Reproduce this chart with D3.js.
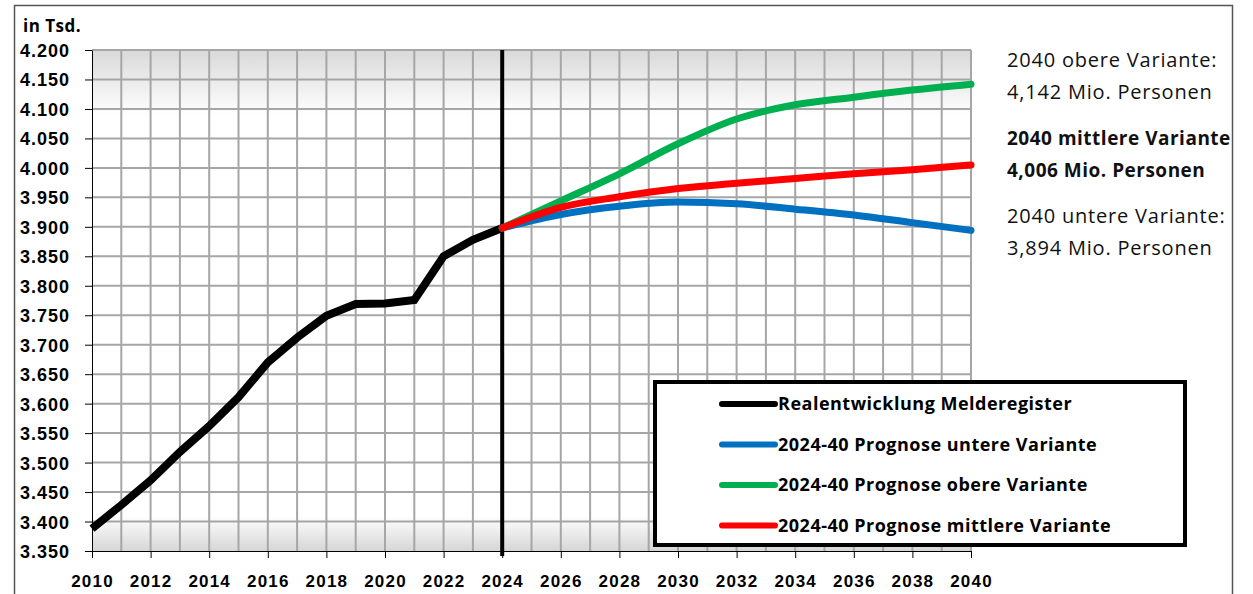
<!DOCTYPE html>
<html>
<head>
<meta charset="utf-8">
<script src="https://cdn.jsdelivr.net/npm/d3@7"></script>
<style>
  body { margin: 0; background: #fff; }
  svg { display: block; font-family: "Open Sans", sans-serif; }
  .axis path, .axis line { stroke: #000; }
  .axis text { font-weight: bold; fill: #000; }
</style>
</head>
<body>
<div id="chart"></div>
<script>
// values in thousands
var realYears = [2010, 2011, 2012, 2013, 2014, 2015, 2016, 2017, 2018, 2019, 2020, 2021, 2022, 2023, 2024];
var realValues = [3388, 3428, 3470, 3518, 3562, 3611, 3670, 3712, 3749, 3769, 3770, 3776, 3850, 3878, 3898];

var progYears = [2024, 2026, 2028, 2030, 2032, 2034, 2036, 2038, 2040];
var untereValues = [3898, 3921, 3935, 3942, 3939, 3930, 3920, 3907, 3894];
var obereValues = [3898, 3944, 3990, 4041, 4083, 4107, 4120, 4132, 4142];
var mittlereValues = [3898, 3933, 3951, 3965, 3974, 3982, 3990, 3997, 4005];

var yTicks = [3350, 3400, 3450, 3500, 3550, 3600, 3650, 3700, 3750, 3800, 3850, 3900, 3950, 4000, 4050, 4100, 4150, 4200];
var xTickYears = [2010, 2012, 2014, 2016, 2018, 2020, 2022, 2024, 2026, 2028, 2030, 2032, 2034, 2036, 2038, 2040];

var legendItems = [
  {label: "Realentwicklung Melderegister", color: "#000000"},
  {label: "2024-40 Prognose untere Variante", color: "#0070c0"},
  {label: "2024-40 Prognose obere Variante", color: "#00b050"},
  {label: "2024-40 Prognose mittlere Variante", color: "#ff0000"}
];

var notes = [
  {lines: ["2040 obere Variante:", "4,142 Mio. Personen"], bold: false},
  {lines: ["2040 mittlere Variante", "4,006 Mio. Personen"], bold: true},
  {lines: ["2040 untere Variante:", "3,894 Mio. Personen"], bold: false}
];

var W = 1253, H = 594;
var margin = {top: 50, right: 282, bottom: 43, left: 92},
    width = W - margin.left - margin.right,
    height = H - margin.top - margin.bottom;

var svg = d3.select("#chart").append("svg")
    .attr("width", W)
    .attr("height", H);

// outer frame
svg.append("rect")
   .attr("x", 14.5).attr("y", 5.5)
   .attr("width", 1218).attr("height", 600)
   .attr("fill", "none")
   .attr("stroke", "#555")
   .attr("stroke-width", 1.5);

var defs = svg.append("defs");
var grad = defs.append("linearGradient")
    .attr("id", "bg").attr("x1", 0).attr("y1", 0).attr("x2", 0).attr("y2", 1);
grad.append("stop").attr("offset", "0%").attr("stop-color", "#d9d9d9");
grad.append("stop").attr("offset", "13%").attr("stop-color", "#ffffff");
grad.append("stop").attr("offset", "93%").attr("stop-color", "#ffffff");
grad.append("stop").attr("offset", "100%").attr("stop-color", "#d6d6d6");

var g = svg.append("g")
    .attr("transform", "translate(" + margin.left + "," + margin.top + ")");

var x = d3.scaleLinear().domain([2010, 2040]).range([0, width]);
var y = d3.scaleLinear().domain([3350, 4200]).range([height, 0]);

g.append("rect")
 .attr("width", width).attr("height", height)
 .attr("fill", "url(#bg)");

// grid
g.append("g")
 .selectAll("line")
 .data(d3.range(2011, 2041))
 .enter().append("line")
   .attr("x1", function(d) { return x(d); })
   .attr("x2", function(d) { return x(d); })
   .attr("y1", 0).attr("y2", height)
   .attr("stroke", "#a6a6a6").attr("stroke-width", 2);

g.append("g")
 .selectAll("line")
 .data(yTicks.slice(1))
 .enter().append("line")
   .attr("x1", 0).attr("x2", width)
   .attr("y1", function(d) { return y(d); })
   .attr("y2", function(d) { return y(d); })
   .attr("stroke", "#a6a6a6").attr("stroke-width", 2);

// axes
var yAxis = g.append("g")
   .attr("class", "axis")
   .call(d3.axisLeft(y).tickValues(yTicks).tickSize(7).tickSizeOuter(0).tickPadding(15)
     .tickFormat(function(d) { return d3.format(".3f")(d / 1000); }));
yAxis.selectAll("text")
     .style("font-size", "18px").style("letter-spacing", "1px")
     .attr("dy", "0.36em");

var xAxis = g.append("g")
   .attr("class", "axis")
   .attr("transform", "translate(0," + height + ")")
   .call(d3.axisBottom(x).tickValues(xTickYears).tickSize(7).tickSizeOuter(0).tickPadding(17)
     .tickFormat(d3.format("d")));
xAxis.selectAll("text")
     .style("font-size", "17px").style("letter-spacing", "1.2px");

svg.append("text")
   .attr("x", 23).attr("y", 32)
   .style("font-size", "17px").style("font-weight", "bold")
   .style("letter-spacing", "0.5px")
   .text("in Tsd.");

// 2024 divider
g.append("line")
 .attr("x1", x(2024)).attr("x2", x(2024))
 .attr("y1", 0).attr("y2", height + 5)
 .attr("stroke", "#000").attr("stroke-width", 4);

// lines
var realLine = d3.line()
    .x(function(d, i) { return x(realYears[i]); })
    .y(function(d) { return y(d); });

var progLine = d3.line()
    .curve(d3.curveMonotoneX)
    .x(function(d, i) { return x(progYears[i]); })
    .y(function(d) { return y(d); });

g.append("path")
 .attr("d", realLine(realValues))
 .attr("fill", "none").attr("stroke", "#000").attr("stroke-width", 8);

[[untereValues, "#0070c0"], [obereValues, "#00b050"], [mittlereValues, "#ff0000"]].forEach(function(s) {
  g.append("path")
   .attr("d", progLine(s[0]))
   .attr("fill", "none").attr("stroke", s[1]).attr("stroke-width", 7)
   .attr("stroke-linecap", "round");
});

// right-hand notes
var noteY = [67, 145, 223];
notes.forEach(function(n, i) {
  n.lines.forEach(function(t, j) {
    svg.append("text")
       .attr("x", 1007).attr("y", noteY[i] + j * 32)
       .style("font-size", n.bold ? "19px" : "20px")
       .style("letter-spacing", n.bold ? "0.5px" : "0.8px")
       .style("font-weight", n.bold ? "bold" : "normal")
       .style("fill", "#111")
       .text(t);
  });
});

// legend
var legend = svg.append("g").attr("transform", "translate(655,382)");
legend.append("rect")
      .attr("width", 530).attr("height", 163)
      .attr("fill", "#fff").attr("stroke", "#000").attr("stroke-width", 4);

legendItems.forEach(function(d, i) {
  var ly = 22 + i * 40.5;
  legend.append("line")
        .attr("x1", 67).attr("x2", 120)
        .attr("y1", ly).attr("y2", ly)
        .attr("stroke", d.color).attr("stroke-width", 6)
        .attr("stroke-linecap", "round");
  legend.append("text")
        .attr("x", 123).attr("y", ly + 6)
        .style("font-size", "18px").style("font-weight", "bold")
        .style("letter-spacing", "0.5px")
        .text(d.label);
});
</script>
</body>
</html>
